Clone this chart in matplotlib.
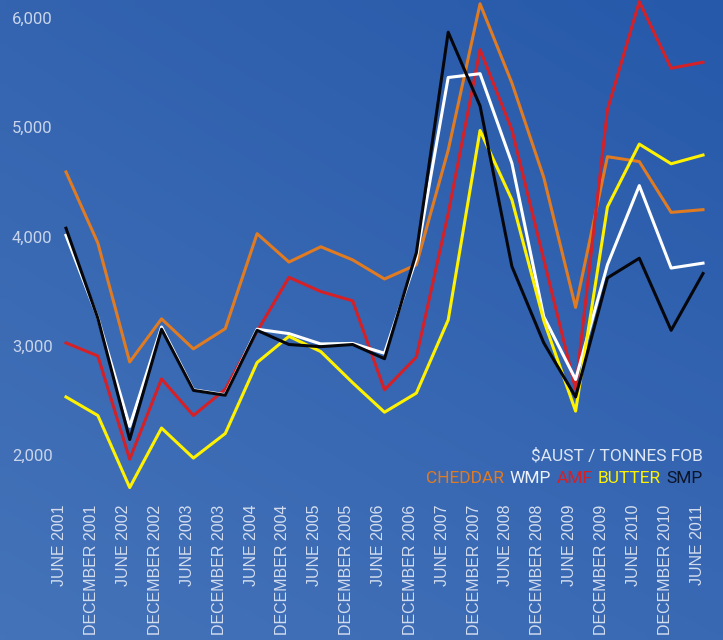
import matplotlib
matplotlib.use('Agg')
import matplotlib.pyplot as plt
import numpy as np
from matplotlib.transforms import ScaledTranslation

# ---- data ----
periods = ["JUNE 2001", "DECEMBER 2001", "JUNE 2002", "DECEMBER 2002", "JUNE 2003",
           "DECEMBER 2003", "JUNE 2004", "DECEMBER 2004", "JUNE 2005", "DECEMBER 2005",
           "JUNE 2006", "DECEMBER 2006", "JUNE 2007", "DECEMBER 2007", "JUNE 2008",
           "DECEMBER 2008", "JUNE 2009", "DECEMBER 2009", "JUNE 2010", "DECEMBER 2010",
           "JUNE 2011"]
cheddar = [4590, 3940, 2850, 3245, 2970, 3155, 4025, 3765, 3905, 3785, 3610, 3740,
           4790, 6130, 5405, 4540, 3350, 4730, 4685, 4220, 4245]
wmp = [4010, 3255, 2260, 3170, 2595, 2550, 3150, 3110, 3015, 3020, 2930, 3800,
       5455, 5490, 4670, 3265, 2690, 3740, 4465, 3710, 3755]
amf = [3025, 2905, 1960, 2695, 2360, 2600, 3130, 3625, 3495, 3410, 2595, 2895,
       4210, 5710, 4975, 3790, 2600, 5160, 6150, 5540, 5595]
butter = [2530, 2360, 1700, 2245, 1970, 2195, 2845, 3085, 2945, 2660, 2390, 2565,
          3235, 4970, 4335, 3230, 2400, 4270, 4845, 4665, 4745]
smp = [4075, 3250, 2140, 3150, 2590, 2545, 3140, 3010, 2990, 3010, 2880, 3850,
       5870, 5195, 3725, 3025, 2530, 3620, 3800, 3140, 3660]
yticks = [2000, 3000, 4000, 5000, 6000]
ytick_labels = ["2,000", "3,000", "4,000", "5,000", "6,000"]

C_CHEDDAR = "#e07b22"
C_WMP = "#ffffff"
C_AMF = "#d42027"
C_BUTTER = "#fff200"
C_SMP = "#05070d"

W, H = 723, 640
fig = plt.figure(figsize=(W / 100, H / 100), dpi=100)

# ---- background gradient ----
bg = fig.add_axes([0, 0, 1, 1])
bg.axis('off')
def hx(c):
    c = c.lstrip('#')
    return np.array([int(c[i:i + 2], 16) / 255 for i in (0, 2, 4)])
tl, tr, bl, br = hx("#3464b0"), hx("#2659aa"), hx("#4473b9"), hx("#3a69b4")
n = 64
u = np.linspace(0, 1, n)[None, :, None]
v = np.linspace(0, 1, n)[:, None, None]
img = (1 - v) * ((1 - u) * tl + u * tr) + v * ((1 - u) * bl + u * br)
bg.imshow(img, extent=[0, 1, 0, 1], aspect='auto', origin='upper', interpolation='bilinear')
bg.set_xlim(0, 1)
bg.set_ylim(0, 1)

# ---- data axes ----
bottom_px = 495
ax = fig.add_axes([0, 1 - bottom_px / H, 1, bottom_px / H])
ax.patch.set_alpha(0)
px_per = 31.85
ax.set_xlim(-66 / px_per, 20 + 20 / px_per)
ypx = 0.1092
ax.set_ylim(6000 - (bottom_px - 18) / ypx, 6000 + 18 / ypx)
for s in ax.spines.values():
    s.set_visible(False)

x = np.arange(len(periods))
lw = 2.2
ax.plot(x, cheddar, color=C_CHEDDAR, lw=lw, zorder=2)
ax.plot(x, amf, color=C_AMF, lw=lw, zorder=3)
ax.plot(x, wmp, color=C_WMP, lw=lw, zorder=4)
ax.plot(x, butter, color=C_BUTTER, lw=lw, zorder=5)
ax.plot(x, smp, color=C_SMP, lw=lw, zorder=6)

ax.set_xticks(x)
ax.set_xticklabels(periods, rotation=90, va='top', ha='center',
                   fontfamily='Liberation Sans', fontsize=11.5, color='#d3ddef')
ax.tick_params(axis='x', length=0, pad=7)
for lbl in ax.get_xticklabels():
    lbl.set_transform(lbl.get_transform() + ScaledTranslation(-6 / 100, 0, fig.dpi_scale_trans))

ax.set_yticks(yticks)
ax.set_yticklabels(ytick_labels, fontfamily='Roboto', fontsize=12, color='#c9d5ea')
ax.tick_params(axis='y', length=0, pad=-12 * 0.72)
for lbl in ax.get_yticklabels():
    lbl.set_horizontalalignment('left')

# ---- legend-like texts ----
fs = 12.5
fig.text(703 / W, 1 - 460 / H, "$AUST / TONNES FOB", ha='right', va='baseline',
         fontfamily='Roboto', fontsize=fs, color='#dde6f3')
words = [("BUTTER", C_BUTTER), ("AMF", C_AMF), ("WMP", "#eef2fa"), ("CHEDDAR", C_CHEDDAR)]
ref = fig.text(703 / W, 1 - 483 / H, "SMP", ha='right', va='baseline',
               fontfamily='Roboto', fontsize=fs, color="#0c1428")
for w, c in words:
    ref = ax.annotate(w, xy=(0, 0), xycoords=ref, xytext=(-4, 0),
                      textcoords='offset points', ha='right', va='bottom',
                      fontfamily='Roboto', fontsize=fs, color=c,
                      annotation_clip=False)

fig.savefig("out.png", dpi=100)
